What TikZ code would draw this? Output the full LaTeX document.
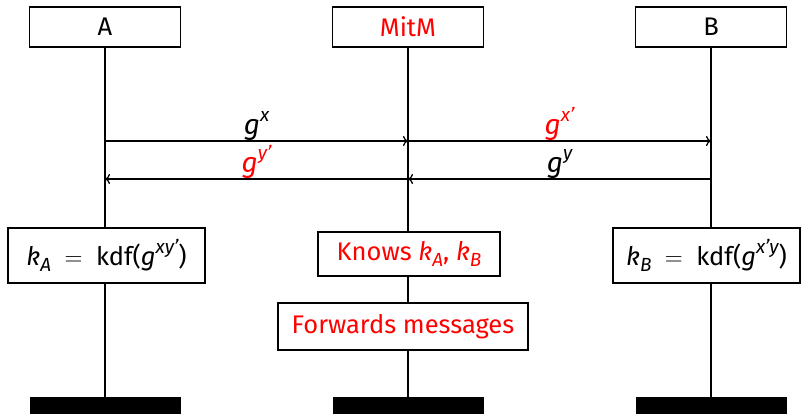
\documentclass[tikz,border=0pt]{standalone}
\usepackage{fontspec}
\setmainfont{Fira Sans}
\usetikzlibrary{arrows.meta}
\newcommand\vi[1]{\textit{#1}}
\newcommand\sub[1]{\raisebox{-0.22em}{\fontsize{19}{20}\selectfont\itshape #1}}
\newcommand\sups[1]{\raisebox{0.48em}{\fontsize{19}{20}\selectfont\itshape #1}}
\newcommand\eqs{\ \ $=$\ \ }
\begin{document}
\begin{tikzpicture}[x=1pt,y=-1pt,
  every node/.style={font=\fontsize{25.5}{30}\selectfont},
  head/.style={draw,line width=1.3pt,fill=white,minimum width=151pt,minimum height=40pt,inner sep=2pt},
  foot/.style={fill=black,minimum width=151pt,minimum height=17pt,inner sep=0pt},
  act/.style={draw,line width=1.3pt,fill=white,inner sep=2pt},
  life/.style={line width=1.3pt},
  msg/.style={line width=1.3pt,-{To[length=5pt,width=10pt]}},
  lbl/.style={anchor=base,inner sep=0pt,yshift=6pt,font=\fontsize{28}{30}\selectfont},
  mitm/.style={text=red}]
\useasboundingbox (0,0) rectangle (806,414);

% instance heads
\node[head] (hA) at (105,27) {A};
\node[head,mitm] (hM) at (408,27) {MitM};
\node[head] (hB) at (711,27) {B};

% instance ends
\node[foot] (fA) at (105,405.5) {};
\node[foot] (fM) at (408,405.5) {};
\node[foot] (fB) at (711,405.5) {};

% local actions
\node[act,minimum width=197pt,minimum height=55pt] (kA) at (106.5,255.5) {\vi{k}\sub{A}\eqs kdf(\vi{g}\sups{xy'})};
\node[act,mitm,minimum width=182pt,minimum height=44pt] (kn) at (409,254) {Knows \vi{k}\sub{A}, \vi{k}\sub{B}};
\node[act,mitm,minimum width=250pt,minimum height=47pt] (fw) at (403,326.5) {Forwards messages};
\node[act,minimum width=187pt,minimum height=55pt] (kB) at (706.5,255.5) {\vi{k}\sub{B}\eqs kdf(\vi{g}\sups{x'y})};

% lifelines, kept vertical under each head
\draw[life] (hA) -- (hA |- kA.north);
\draw[life] (hA |- kA.south) -- (fA);
\draw[life] (hM) -- (hM |- kn.north);
\draw[life] (hM |- kn.south) -- (hM |- fw.north);
\draw[life] (hM |- fw.south) -- (fM);
\draw[life] (hB) -- (hB |- kB.north);
\draw[life] (hB |- kB.south) -- (fB);

% message anchors on the lifelines
\coordinate (a1) at (105,141);
\coordinate (m1) at (408,141);
\coordinate (b1) at (711,141);
\coordinate (a2) at (105,179);
\coordinate (m2) at (408,179);
\coordinate (b2) at (711,179);

% messages
\draw[msg] (a1) -- node[lbl] {\vi{g}\sups{x}} (m1);
\draw[msg] (m1) -- node[lbl,text=red] {\vi{g}\sups{x'}} (b1);
\draw[msg] (b2) -- node[lbl] {\vi{g}\sups{y}} (m2);
\draw[msg] (m2) -- node[lbl,text=red] {\vi{g}\sups{y'}} (a2);
\end{tikzpicture}
\end{document}
